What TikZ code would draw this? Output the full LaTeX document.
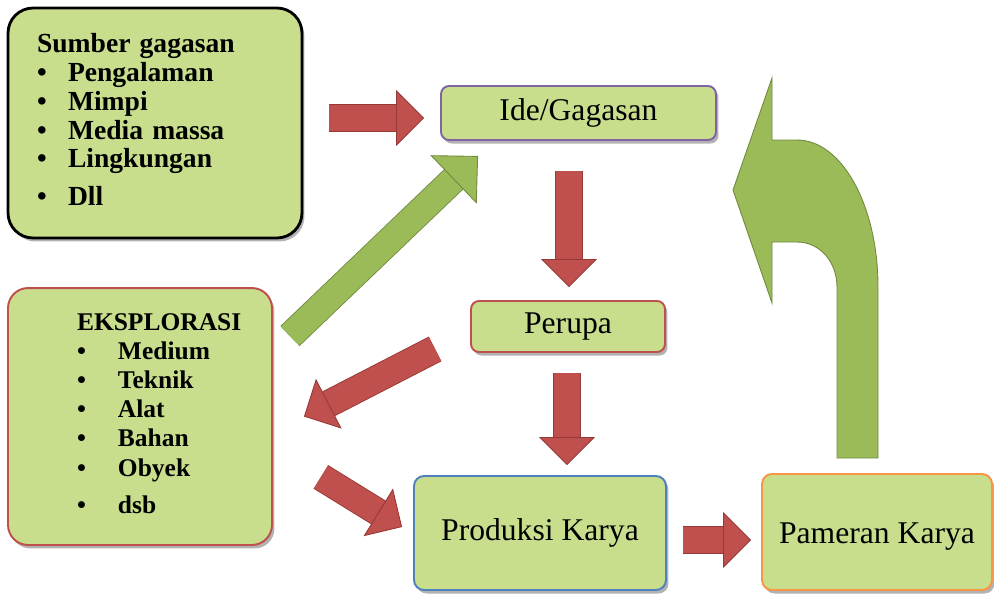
\documentclass[tikz,border=0pt]{standalone}
\usepackage{fontspec}
\setmainfont{Liberation Serif}
\usepackage{tikz}
\usetikzlibrary{arrows.meta, shadows}
\definecolor{hijau}{RGB}{200,222,140}
\definecolor{merah}{RGB}{192,80,77}
\definecolor{merahgaris}{RGB}{150,56,53}
\definecolor{hijautua}{RGB}{155,187,89}
\definecolor{hijaugaris}{RGB}{113,137,63}
\definecolor{ungu}{RGB}{128,100,162}
\definecolor{biru}{RGB}{79,129,189}
\definecolor{oranye}{RGB}{247,150,70}
\newcommand{\butir}{\makebox[0.62cm][l]{\textbullet}}
\newcommand{\butirb}{\makebox[0.82cm][l]{\textbullet}}
\tikzstyle{box} = [rectangle, draw, fill=hijau, text centered, line width=1.1pt, drop shadow={shadow xshift=0.05cm, shadow yshift=-0.07cm, opacity=0.3, fill=black}]
\tikzstyle{source} = [box, rounded corners=0.5cm, minimum width=5.88cm, minimum height=4.6cm, draw=black, line width=1.6pt, text width=4.72cm, align=left, font=\bfseries\fontsize{15.7}{16.5}\selectfont]
\tikzstyle{explore} = [box, rounded corners=0.4cm, minimum width=5.28cm, minimum height=5.14cm, draw=merah, text width=2.52cm, align=left, font=\bfseries\fontsize{14.5}{16.6}\selectfont]
\tikzstyle{idea} = [box, rounded corners=0.16cm, minimum width=5.5cm, minimum height=1.08cm, draw=ungu, font=\fontsize{18}{20}\selectfont]
\tikzstyle{artist} = [box, rounded corners=0.16cm, minimum width=3.88cm, minimum height=1.02cm, draw=merah, font=\fontsize{18}{20}\selectfont]
\tikzstyle{produce} = [box, rounded corners=0.2cm, minimum width=5.04cm, minimum height=2.28cm, draw=biru, font=\fontsize{18}{20}\selectfont]
\tikzstyle{exhibit} = [box, rounded corners=0.2cm, minimum width=4.6cm, minimum height=2.32cm, draw=oranye, font=\fontsize{18}{20}\selectfont]
\tikzstyle{arrowred} = [draw=merahgaris, line width=0.5pt, double=merah, double distance=0.52cm, -{Triangle[length=0.56cm, width=1.12cm, fill=merah, color=merahgaris, line width=0.5pt]}]
\tikzstyle{arrowgreen} = [draw=hijaugaris, line width=0.5pt, double=hijautua, double distance=0.52cm, -{Triangle[length=0.68cm, width=1.34cm, fill=hijautua, color=hijaugaris, line width=0.5pt]}]

\begin{document}
\begin{tikzpicture}[x=0.02cm, y=-0.02cm]
	\useasboundingbox (0,0) rectangle (994,593);
	\node (sumber) [source] at (155,123) {Sumber gagasan\\ \butir Pengalaman\\ \butir Mimpi\\ \butir Media massa\\ \butir Lingkungan\\[4.6pt] \butir Dll\vspace*{0.16cm}};
	\node (ide) [idea] at (578.5,113) {Ide/Gagasan};
	\node (perupa) [artist] at (568,326.5) {Perupa};
	\node (eksplorasi) [explore] at (140,416.5) {EKSPLORASI\\ \butirb Medium\\ \butirb Teknik\\ \butirb Alat\\ \butirb Bahan\\ \butirb Obyek\\[4.6pt] \butirb dsb\vspace*{0.12cm}};
	\node (produksi) [produce] at (540,533) {Produksi Karya};
	\node (pameran) [exhibit] at (877,532) {\raisebox{-0.1cm}[\height][\depth]{Pameran Karya}};
	
	\draw [arrowred] ([shift={(26,-5)}]sumber.east) -- ([shift={(-16,5)}]ide.west);
	\draw [arrowred] ([shift={(-9.5,30)}]ide.south) -- ([shift={(1,-13)}]perupa.north);
	\draw [arrowred] ([shift={(-1,20)}]perupa.south) -- ([shift={(27,-10)}]produksi.north);
	\draw [arrowred] ([shift={(-35,-4)}]perupa.south west) -- ([shift={(31,0)}]eksplorasi.east);
	\draw [arrowred] ([shift={(48,-69)}]eksplorasi.south east) -- ([shift={(-11,-6)}]produksi.west);
	\draw [arrowred] ([shift={(16,7)}]produksi.east) -- ([shift={(-10,8)}]pameran.west);
	\draw [arrowgreen] ([shift={(17,49)}]eksplorasi.north east) -- ([shift={(38,15)}]ide.south west);
	% panah balik dari pameran ke ide
	\draw [hijaugaris, fill=hijautua, line width=0.5pt] (837,458) -- (837,287) .. controls (837,262) and (820,242) .. (797,242) -- (772,242) -- (772,303) -- (733,190) -- (772,78) -- (772,140) -- (797,140) .. controls (842,140) and (878,206) .. (878,287) -- (878,458) -- cycle;
\end{tikzpicture}
\end{document}
